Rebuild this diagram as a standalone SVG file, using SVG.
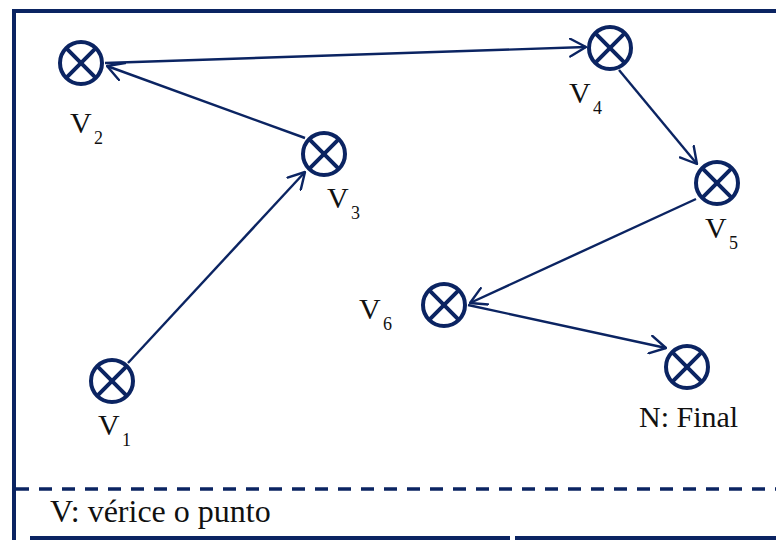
<svg xmlns="http://www.w3.org/2000/svg" width="776" height="540" viewBox="0 0 776 540">
<style>
.frame{stroke:#0b2462;stroke-width:4;fill:none}
.dash{stroke:#0b2462;stroke-width:3.5;fill:none;stroke-dasharray:13 10}
.ring{stroke:#0b2462;stroke-width:4;fill:#fff}
.cross{stroke:#0b2462;stroke-width:4;fill:none}
.edge{stroke:#0b2462;stroke-width:2.4;fill:none;marker-end:url(#arr)}
.lbl{font-family:"Liberation Serif","Times New Roman",serif;font-size:30px;fill:#111}
.sub{font-family:"Liberation Serif","Times New Roman",serif;font-size:18px;fill:#111}
.note{font-family:"Liberation Serif","Times New Roman",serif;font-size:32px;fill:#111}
</style>
<defs>
<marker id="arr" viewBox="0 0 18 20" refX="17" refY="10" markerWidth="18" markerHeight="20" markerUnits="userSpaceOnUse" orient="auto">
<path d="M1,1 L17,10 L1,19" fill="none" stroke="#0b2462" stroke-width="2.4" stroke-linecap="round" stroke-linejoin="round"/>
</marker>
<g id="node">
<circle cx="0" cy="0" r="21" class="ring"/>
<path d="M-14.8,-14.8 L14.8,14.8 M14.8,-14.8 L-14.8,14.8" class="cross"/>
</g>
</defs>
<rect width="776" height="540" fill="#fff"/>
<g id="frame">
<path class="frame" d="M14,540 L14,11 L776,11"/>
<path class="dash" d="M16,489 L776,489"/>
<path class="frame" d="M30,538 L510,538 M515,538 L776,538"/>
<text class="note" x="50" y="522">V: vérice o punto</text>
</g>
<g id="connectors">
<line class="edge" x1="128" y1="363" x2="305" y2="172"/>
<line class="edge" x1="305" y1="138" x2="107" y2="66"/>
<line class="edge" x1="105" y1="63" x2="586" y2="47"/>
<line class="edge" x1="619" y1="70" x2="697" y2="164"/>
<line class="edge" x1="696" y1="199" x2="470" y2="303"/>
<line class="edge" x1="468" y1="305" x2="666" y2="348"/>
</g>
<g id="v1"><use href="#node" x="112" y="381"/><text class="lbl" x="98" y="435">V</text><text class="sub" x="122" y="446">1</text></g>
<g id="v2"><use href="#node" x="81" y="63"/><text class="lbl" x="70" y="133">V</text><text class="sub" x="94" y="144">2</text></g>
<g id="v3"><use href="#node" x="324" y="154"/><text class="lbl" x="327" y="208">V</text><text class="sub" x="351" y="219">3</text></g>
<g id="v4"><use href="#node" x="610" y="48"/><text class="lbl" x="569" y="103">V</text><text class="sub" x="593" y="114">4</text></g>
<g id="v5"><use href="#node" x="717" y="183"/><text class="lbl" x="705" y="238">V</text><text class="sub" x="729" y="249">5</text></g>
<g id="v6"><use href="#node" x="444" y="305"/><text class="lbl" x="359" y="319">V</text><text class="sub" x="383" y="330">6</text></g>
<g id="final"><use href="#node" x="687" y="367"/><text class="lbl" x="639" y="427">N: Final</text></g>
</svg>
